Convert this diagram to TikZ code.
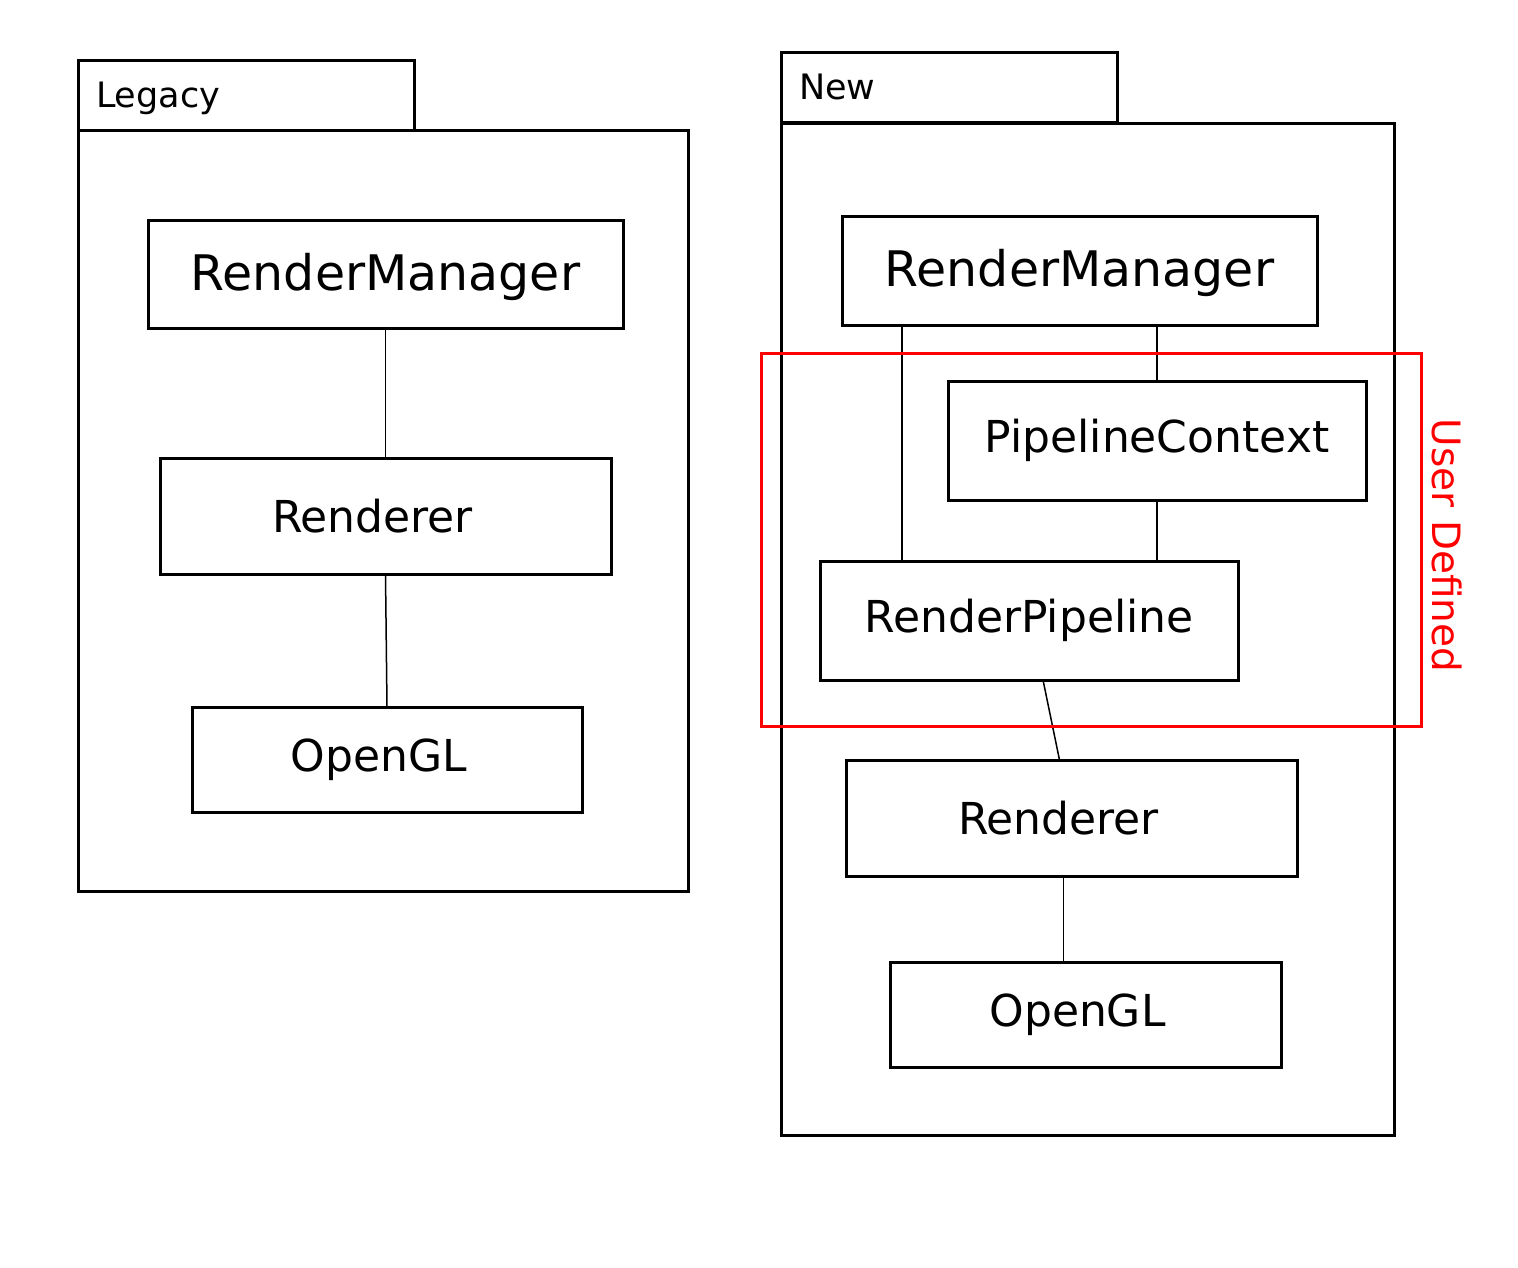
\documentclass[tikz,border=0pt]{standalone}
\usepackage{fontspec}
\setmainfont{DejaVu Sans}
\usetikzlibrary{positioning,calc}

\begin{document}
\begin{tikzpicture}[
    x=1pt,y=-1pt,
    every node/.style={inner sep=0pt,outer sep=0pt},
    every label/.style={font=\fontsize{44}{50}\selectfont},
    tab/.style={draw,line width=3pt,anchor=north west,minimum height=70pt,text width=300pt,inner xsep=18pt,align=left,font=\fontsize{35}{40}\selectfont},
    pkgbody/.style={draw,line width=3pt,anchor=north west},
    cls/.style={draw,line width=3pt,font=\fontsize{44}{50}\selectfont},
    big/.style={font=\fontsize{49}{56}\selectfont},
    link/.style={line width=1.5pt},
    userbox/.style={draw=red,line width=3pt},
]
\useasboundingbox (0,0) rectangle (1518,1267);

% Legacy package
\node[tab,yshift=-3pt,draw=none] (ltabtxt) at (78,60) {Legacy};
\node[draw,line width=3pt,anchor=north west,minimum width=336pt,minimum height=70pt] (ltab) at (78,60) {};
\node[pkgbody,minimum width=610pt,minimum height=761pt] (lbody) at (78,130) {};
\node[cls,big,minimum width=475pt,minimum height=108pt,yshift=-4pt] (lrm) at (385.5,270) {};
\node[cls,minimum width=451pt,minimum height=116pt,label={[xshift=-13pt]center:Renderer}] (lren) at (385.5,516) {};
\node[cls,minimum width=390pt,minimum height=105pt,label={[xshift=-8pt]center:OpenGL}] (lgl) at (387,759.5) {};
\node[big] (lrmtxt) at ([yshift=-3pt]lrm.center) {RenderManager};

\draw[link] (lrm.south) -- (lren.north);
\draw[link] (lren.south) -- (lgl.north);

% New package
\node[tab] (ntab) at (781,52) {New};
\node[pkgbody,minimum width=613pt,minimum height=1012pt] (nbody) at (781,123) {};
\node[cls,big,minimum width=475pt,minimum height=109pt] (nrm) at (1079.5,270.5) {};
\node[big] (nrmtxt) at ([yshift=-2pt]nrm.center) {RenderManager};
\node[cls,minimum width=418pt,minimum height=119pt] (npc) at (1157,440.5) {PipelineContext};
\node[cls,minimum width=418pt,minimum height=119pt] (nrp) at (1029,620.5) {RenderPipeline};
\node[cls,minimum width=451pt,minimum height=116pt,label={[xshift=-13pt]center:Renderer}] (nren) at (1071.5,818) {};
\node[cls,minimum width=391pt,minimum height=105pt,label={[xshift=-8pt]center:OpenGL}] (ngl) at (1085.5,1014.5) {};

\draw[link] ([xshift=82pt]nrp.north west) -- ([xshift=82pt]nrp.north west |- nrm.south);
\draw[link] (npc.north |- nrm.south) -- (npc.north);
\draw[link] (npc.south) -- (npc.south |- nrp.north);
\draw[link] ([xshift=14pt]nrp.south) -- ([xshift=-12pt]nren.north);
\draw[link] ([xshift=-8pt]nren.south) -- ([xshift=-22pt]ngl.north);

% user defined part
\node[userbox,minimum width=660pt,minimum height=373pt] (user) at (1091,539.5) {};
\node[red,rotate=-90,font=\fontsize{39}{45}\selectfont] (userlbl) at ([xshift=26pt,yshift=-6pt]user.east) {User Defined};
\end{tikzpicture}
\end{document}
